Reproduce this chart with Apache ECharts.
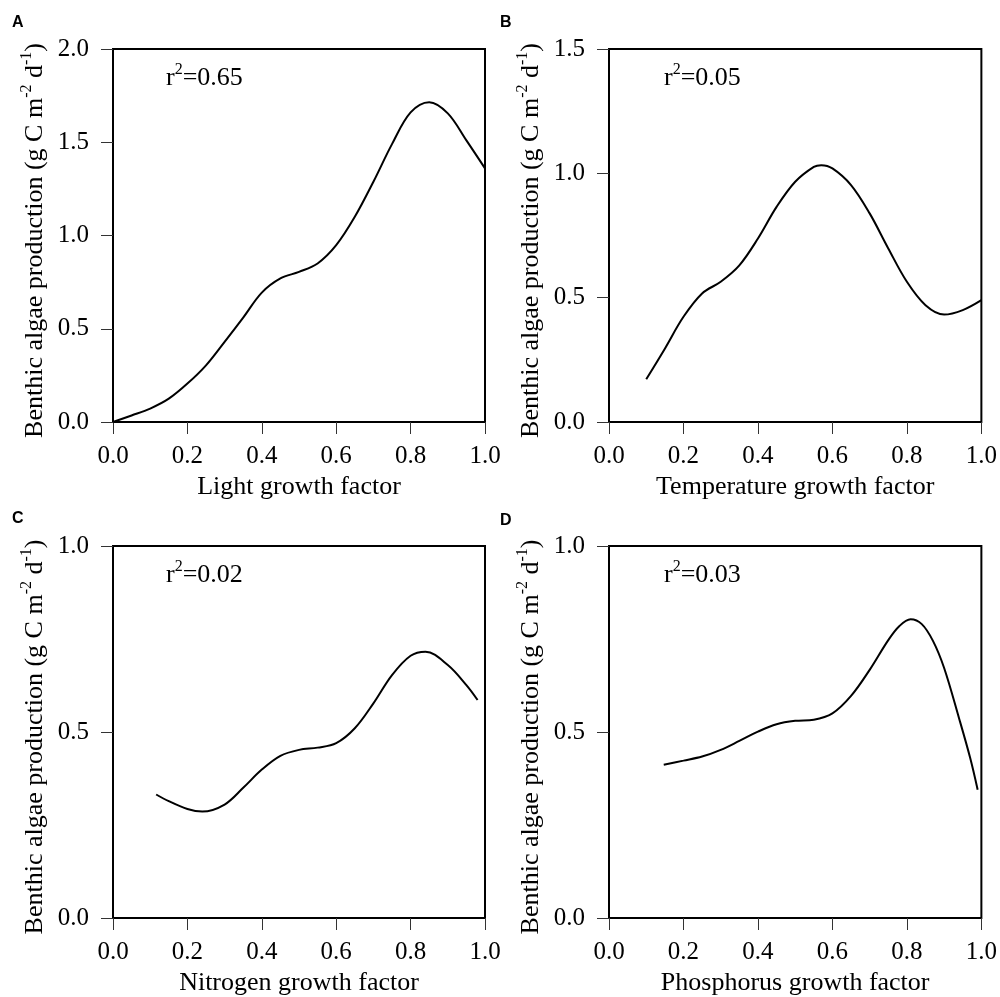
<!DOCTYPE html>
<html>
<head>
<meta charset="utf-8">
<script src="https://cdn.jsdelivr.net/npm/echarts@6/dist/echarts.min.js"></script>
<style>html,body{margin:0;padding:0;background:#fff}#c{width:1000px;height:997px}</style>
</head>
<body>
<div id="c"></div>
<script>
// ---- data ----
const panelLetters = ['A', 'B', 'C', 'D'];
const xNames = ['Light growth factor', 'Temperature growth factor', 'Nitrogen growth factor', 'Phosphorus growth factor'];
const r2Labels = ['0.65', '0.05', '0.02', '0.03'];
const yMax = [2.0, 1.5, 1.0, 1.0];
const xTicks = [0.0, 0.2, 0.4, 0.6, 0.8, 1.0];

const lightX = [0.00, 0.05, 0.10, 0.15, 0.20, 0.25, 0.30, 0.35, 0.40, 0.45, 0.50, 0.55, 0.60, 0.65, 0.70, 0.75, 0.80, 0.85, 0.90, 0.95, 1.00];
const lightY = [0.00, 0.035, 0.072, 0.125, 0.206, 0.304, 0.43, 0.56, 0.694, 0.77, 0.805, 0.85, 0.948, 1.10, 1.288, 1.49, 1.66, 1.715, 1.655, 1.51, 1.36];

const tempX = [0.10, 0.15, 0.20, 0.25, 0.30, 0.35, 0.40, 0.45, 0.50, 0.55, 0.57, 0.60, 0.65, 0.70, 0.75, 0.80, 0.85, 0.90, 0.95, 1.00];
const tempY = [0.172, 0.295, 0.423, 0.517, 0.564, 0.63, 0.738, 0.865, 0.966, 1.026, 1.033, 1.02, 0.953, 0.839, 0.698, 0.564, 0.47, 0.432, 0.45, 0.49];

const nitroX = [0.116, 0.15, 0.20, 0.24, 0.30, 0.35, 0.40, 0.45, 0.50, 0.55, 0.60, 0.65, 0.70, 0.75, 0.80, 0.84, 0.90, 0.95, 0.98];
const nitroY = [0.332, 0.314, 0.293, 0.286, 0.305, 0.35, 0.399, 0.436, 0.452, 0.458, 0.47, 0.51, 0.577, 0.653, 0.705, 0.716, 0.68, 0.626, 0.586];

const phosX = [0.147, 0.20, 0.25, 0.30, 0.35, 0.40, 0.45, 0.50, 0.55, 0.60, 0.65, 0.70, 0.75, 0.78, 0.81, 0.84, 0.87, 0.90, 0.94, 0.97, 0.99];
const phosY = [0.412, 0.423, 0.434, 0.452, 0.476, 0.501, 0.521, 0.53, 0.533, 0.55, 0.597, 0.667, 0.747, 0.785, 0.803, 0.790, 0.745, 0.672, 0.537, 0.43, 0.345];

const seriesX = [lightX, tempX, nitroX, phosX];
const seriesY = [lightY, tempY, nitroY, phosY];

// ---- layout ----
const serif = 'Liberation Serif';
const grids = [
  {left: 113, top: 49, width: 372, height: 373},
  {left: 609, top: 49, width: 373, height: 373},
  {left: 113, top: 546, width: 372, height: 373},
  {left: 609, top: 546, width: 373, height: 373}
];
const letterPos = [[12, 15], [500, 15], [12, 511], [500, 513]];
const r2Pos = [[166, 62], [664, 62], [166, 559], [664, 559]];

const supRich = {
  n: {fontFamily: serif, fontSize: 26, lineHeight: 32, color: '#000'},
  s: {fontFamily: serif, fontSize: 16, lineHeight: 17, verticalAlign: 'top', color: '#000'}
};

const option = {
  animation: false,
  backgroundColor: '#fff',
  grid: grids.map(g => Object.assign({show: true, borderColor: '#000', borderWidth: 2, backgroundColor: 'transparent'}, g)),
  xAxis: grids.map((g, i) => ({
    type: 'value', gridIndex: i, min: 0, max: 1, interval: 0.2,
    name: xNames[i], nameLocation: 'middle', nameGap: 52,
    nameTextStyle: {fontFamily: serif, fontSize: 26, color: '#000'},
    axisLine: {show: false},
    axisTick: {show: true, inside: false, length: 12, lineStyle: {color: '#333', width: 1}},
    splitLine: {show: false},
    axisLabel: {margin: 22, fontFamily: serif, fontSize: 25, color: '#000', formatter: v => v.toFixed(1), showMinLabel: true, showMaxLabel: true}
  })),
  yAxis: grids.map((g, i) => ({
    type: 'value', gridIndex: i, min: 0, max: yMax[i], interval: 0.5,
    name: '{n|Benthic algae production (g C m}{s|-2}{n| d}{s|-1}{n|)}',
    nameLocation: 'middle', nameGap: 62, nameRotate: 90,
    nameTextStyle: {fontFamily: serif, fontSize: 26, color: '#000', rich: supRich, padding: [0, 10, 0, 0]},
    axisLine: {show: false},
    axisTick: {show: true, inside: false, length: 12, lineStyle: {color: '#333', width: 1}},
    splitLine: {show: false},
    axisLabel: {margin: 24, fontFamily: serif, fontSize: 25, color: '#000', formatter: v => v.toFixed(1), showMinLabel: true, showMaxLabel: true}
  })),
  series: seriesX.map((xs, i) => ({
    type: 'line', xAxisIndex: i, yAxisIndex: i,
    data: xs.map((x, k) => [x, seriesY[i][k]]),
    smooth: 0.35, showSymbol: false, symbol: 'none',
    lineStyle: {color: '#000', width: 2},
    clip: false
  })),
  graphic: [].concat(
    panelLetters.map((t, i) => ({
      type: 'text', left: letterPos[i][0], top: letterPos[i][1],
      style: {text: t, font: 'bold 16px "Liberation Sans", Arial, sans-serif', fill: '#000'}
    })),
    r2Labels.map((t, i) => ({
      type: 'text', left: r2Pos[i][0], top: r2Pos[i][1],
      style: {text: '{n|r}{s|2}{n|=' + t + '}', rich: supRich, fill: '#000'}
    }))
  )
};

const chart = echarts.init(document.getElementById('c'), null, {renderer: 'canvas'});
chart.setOption(option);
</script>
</body>
</html>
